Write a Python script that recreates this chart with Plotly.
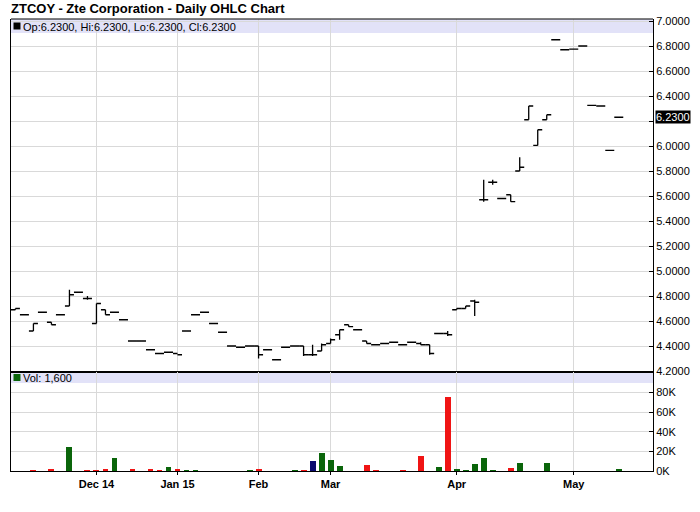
import plotly.graph_objects as go

# ---------------- data ----------------
dates = [
    "2014-11-03", "2014-11-05", "2014-11-07", "2014-11-11", "2014-11-13", "2014-11-17", "2014-11-19", "2014-11-21", "2014-11-25",
    "2014-12-01", "2014-12-03", "2014-12-05", "2014-12-09", "2014-12-11", "2014-12-15", "2014-12-17", "2014-12-19", "2014-12-23",
    "2015-01-02", "2015-01-06", "2015-01-08", "2015-01-12", "2015-01-14", "2015-01-16", "2015-01-21", "2015-01-23", "2015-01-27",
    "2015-02-02", "2015-02-04", "2015-02-06", "2015-02-10", "2015-02-12", "2015-02-17", "2015-02-19", "2015-02-24",
    "2015-03-02", "2015-03-03", "2015-03-05", "2015-03-06", "2015-03-09", "2015-03-11", "2015-03-13", "2015-03-16",
    "2015-03-18", "2015-03-20", "2015-03-23", "2015-03-25", "2015-03-27", "2015-03-30",
    "2015-04-01", "2015-04-02", "2015-04-06", "2015-04-08", "2015-04-09", "2015-04-13", "2015-04-15", "2015-04-16",
    "2015-04-20", "2015-04-22", "2015-04-24", "2015-04-27", "2015-04-29",
    "2015-05-01", "2015-05-05", "2015-05-07", "2015-05-11", "2015-05-13", "2015-05-15",
]

opens = [4.69, 4.65, 4.52, 4.67, 4.59, 4.65, 4.72, 4.83, 4.78,
         4.58, 4.69, 4.67, 4.61, 4.44, 4.44, 4.37, 4.34, 4.35,
         4.34, 4.52, 4.65, 4.67, 4.58, 4.51, 4.40, 4.39, 4.40,
         4.40, 4.37, 4.29, 4.39, 4.40, 4.40, 4.33, 4.36,
         4.42, 4.49, 4.57, 4.53, 4.44, 4.41, 4.42, 4.43, 4.41, 4.43, 4.42, 4.41, 4.50, 4.50,
         4.69, 4.70, 4.76, 5.57, 5.71, 5.58, 5.61, 5.80, 6.21, 6.005, 6.21, 6.85, 6.77,
         6.775, 6.80, 6.325, 6.32, 5.965, 6.23]
highs = [4.70, 4.65, 4.58, 4.67, 4.59, 4.65, 4.85, 4.83, 4.80,
         4.74, 4.69, 4.67, 4.61, 4.44, 4.44, 4.37, 4.34, 4.35,
         4.34, 4.52, 4.65, 4.67, 4.58, 4.51, 4.40, 4.39, 4.40,
         4.40, 4.37, 4.29, 4.39, 4.40, 4.40, 4.41, 4.42,
         4.46, 4.53, 4.57, 4.53, 4.44, 4.41, 4.42, 4.43, 4.41, 4.43, 4.43, 4.41, 4.50, 4.52,
         4.70, 4.72, 4.77, 5.73, 5.73, 5.58, 5.61, 5.91, 6.32, 6.13, 6.25, 6.85, 6.77,
         6.775, 6.80, 6.325, 6.32, 5.965, 6.23]
lows = [4.69, 4.65, 4.52, 4.67, 4.57, 4.65, 4.72, 4.83, 4.77,
        4.58, 4.65, 4.67, 4.61, 4.44, 4.44, 4.37, 4.34, 4.35,
        4.34, 4.52, 4.65, 4.67, 4.58, 4.51, 4.40, 4.39, 4.40,
        4.30, 4.37, 4.29, 4.39, 4.40, 4.32, 4.32, 4.36,
        4.42, 4.45, 4.555, 4.53, 4.42, 4.41, 4.42, 4.43, 4.41, 4.43, 4.41, 4.33, 4.50, 4.48,
        4.69, 4.70, 4.64, 5.555, 5.69, 5.58, 5.555, 5.80, 6.21, 6.005, 6.21, 6.85, 6.77,
        6.775, 6.80, 6.325, 6.32, 5.965, 6.23]
closes = [4.70, 4.65, 4.58, 4.67, 4.57, 4.65, 4.81, 4.83, 4.78,
          4.74, 4.65, 4.67, 4.61, 4.44, 4.44, 4.37, 4.34, 4.35,
          4.33, 4.52, 4.65, 4.67, 4.58, 4.51, 4.40, 4.39, 4.40,
          4.33, 4.37, 4.29, 4.39, 4.40, 4.33, 4.33, 4.41,
          4.45, 4.53, 4.555, 4.53, 4.42, 4.41, 4.42, 4.43, 4.41, 4.43, 4.41, 4.34, 4.50, 4.49,
          4.70, 4.72, 4.75, 5.57, 5.71, 5.58, 5.555, 5.83, 6.32, 6.13, 6.25, 6.85, 6.77,
          6.775, 6.80, 6.325, 6.32, 5.965, 6.23]
volumes = [0, 0, 1000, 0, 2000, 0, 25000, 0, 1000,
           1000, 2000, 13000, 0, 2000, 0, 2000, 1000, 4000,
           2000, 1000, 1000, 0, 0, 0, 0, 0, 1000,
           2000, 0, 0, 0, 1000, 1000, 10000, 18000,
           11000, 5000, 0, 0, 6000, 1000, 0, 0, 1000, 0, 15000, 0, 4000, 75000,
           2000, 1000, 7000, 13000, 1000, 0, 3000, 8000, 0, 0, 8000, 0, 0,
           0, 0, 0, 0, 0, 1600]

month_tick_dates = ["2014-12-01", "2015-01-02", "2015-02-02", "2015-03-02", "2015-04-01", "2015-05-01"]
month_tick_labels = ["Dec 14", "Jan 15", "Feb", "Mar", "Apr", "May"]
price_ticks = [4.2, 4.4, 4.6, 4.8, 5.0, 5.2, 5.4, 5.6, 5.8, 6.0, 6.2, 6.4, 6.6, 6.8, 7.0]
vol_ticks = [0, 20000, 40000, 60000, 80000]
vol_tick_labels = ["0K", "20K", "40K", "60K", "80K"]

# ---------------- styling ----------------
FONT = "Liberation Sans, Arial, sans-serif"
GRID = "#d9d9d9"
BAND = "#e2e2f8"
UP, DOWN, FLAT = "#0a650a", "#f01414", "#0a0a6e"

vol_colors = []
for i, c in enumerate(closes):
    prev = closes[i - 1] if i > 0 else c
    vol_colors.append(UP if c > prev + 1e-9 else (DOWN if c < prev - 1e-9 else FLAT))

last_close = closes[-1]
price_ticktext = ["" if abs(v - last_close) < 0.06 else f"{v:.4f}" for v in price_ticks]

W, H = 700, 512
ML, MR, MT, MB = 10, 46, 19, 41
PH = H - MT - MB  # 452
price_dom = [(H - MB - 371) / PH, 1.0]
vol_dom = [0.0, (H - MB - 372) / PH]

fig = go.Figure()
fig.add_trace(go.Ohlc(
    x=dates, open=opens, high=highs, low=lows, close=closes,
    xaxis="x", yaxis="y", tickwidth=0.5,
    increasing=dict(line=dict(color="black", width=1.3)),
    decreasing=dict(line=dict(color="black", width=1.3)),
    hoverinfo="skip", showlegend=False,
))
fig.add_trace(go.Bar(
    x=dates, y=volumes, marker=dict(color=vol_colors, line=dict(width=0)),
    width=0.66, xaxis="x2", yaxis="y2", hoverinfo="skip", showlegend=False,
))

xrange = [-0.49, 70.8]
common_x = dict(type="category", range=xrange, tickvals=month_tick_dates, showgrid=True,
                gridcolor=GRID, gridwidth=1, zeroline=False, fixedrange=True)

fig.update_layout(
    width=W, height=H, margin=dict(l=ML, r=MR, t=MT, b=MB),
    paper_bgcolor="white", plot_bgcolor="white",
    font=dict(family=FONT, size=11, color="black"),
    showlegend=False, bargap=0,
    xaxis=dict(**common_x, domain=[0, 1], anchor="y", showticklabels=False,
               showline=True, linecolor="black", linewidth=2, ticks="",
               rangeslider=dict(visible=False)),
    yaxis=dict(domain=price_dom, anchor="x", side="right", range=[4.2, 7.016],
               tickvals=price_ticks, ticktext=price_ticktext, ticks="inside", ticklen=4,
               tickcolor="black", showline=True, linecolor="black", linewidth=1, mirror=True,
               showgrid=True, gridcolor=GRID, zeroline=False,
               tickfont=dict(family=FONT, size=11, color="black")),
    xaxis2=dict(**common_x, domain=[0, 1], anchor="y2", matches="x",
                ticktext=month_tick_labels, ticks="outside", ticklen=3, tickcolor="black",
                showline=True, linecolor="black", linewidth=1,
                tickfont=dict(family=FONT, size=11, color="black", weight="bold")),
    yaxis2=dict(domain=vol_dom, anchor="x2", side="right", range=[0, 101000],
                tickvals=vol_ticks, ticktext=vol_tick_labels, ticks="inside", ticklen=4,
                tickcolor="black", showline=True, linecolor="black", linewidth=1, mirror=True,
                showgrid=True, gridcolor=GRID, zeroline=False,
                tickfont=dict(family=FONT, size=11, color="black")),
)

# legend bands, squares, top frame
fig.add_shape(type="rect", xref="paper", yref="y domain", x0=0, x1=1, y0=1 - 14 / 352, y1=1,
              fillcolor=BAND, line=dict(width=0), layer="between")
fig.add_shape(type="rect", xref="paper", yref="y2 domain", x0=0, x1=1, y0=1 - 11 / 99, y1=1,
              fillcolor=BAND, line=dict(width=0), layer="between")
fig.add_shape(type="rect", xref="paper", yref="y domain", x0=2.5 / 644, x1=9.5 / 644,
              y0=(371 - 29.5) / 352, y1=(371 - 22.5) / 352, fillcolor="black", line=dict(width=0))
fig.add_shape(type="rect", xref="paper", yref="y2 domain", x0=2.5 / 644, x1=9.5 / 644,
              y0=(471 - 381) / 99, y1=(471 - 374) / 99, fillcolor=UP, line=dict(width=0))
fig.add_shape(type="line", xref="paper", yref="paper", x0=0, x1=1, y0=1, y1=1,
              line=dict(color="black", width=1))

fig.add_annotation(text="ZTCOY - Zte Corporation - Daily OHLC Chart", xref="paper", yref="paper",
                   x=0, y=(H - MB - 8.5) / PH, xanchor="left", yanchor="middle", showarrow=False,
                   xshift=-2, font=dict(family=FONT, size=13, color="black", weight="bold"))
fig.add_annotation(text=f"Op:{opens[-1]:.4f}, Hi:{highs[-1]:.4f}, Lo:{lows[-1]:.4f}, Cl:{closes[-1]:.4f}",
                   xref="paper", yref="y domain", x=10 / 644, y=(371 - 26.5) / 352,
                   xanchor="left", yanchor="middle", showarrow=False,
                   font=dict(family=FONT, size=11, color="black"))
fig.add_annotation(text=f"Vol: {volumes[-1]:,}", xref="paper", yref="y2 domain",
                   x=10 / 644, y=(471 - 377.5) / 99, xanchor="left", yanchor="middle",
                   showarrow=False, font=dict(family=FONT, size=11, color="black"))
fig.add_annotation(text=f"{last_close:.4f}", xref="paper", yref="y", x=1, y=last_close,
                   xanchor="left", yanchor="middle", xshift=2, showarrow=False,
                   bgcolor="black", borderpad=0, font=dict(family=FONT, size=11, color="white"))

fig.write_html("out.html", config={"displayModeBar": False, "staticPlot": True},
               post_script="document.body.style.margin='0';document.body.style.overflow='hidden';")
